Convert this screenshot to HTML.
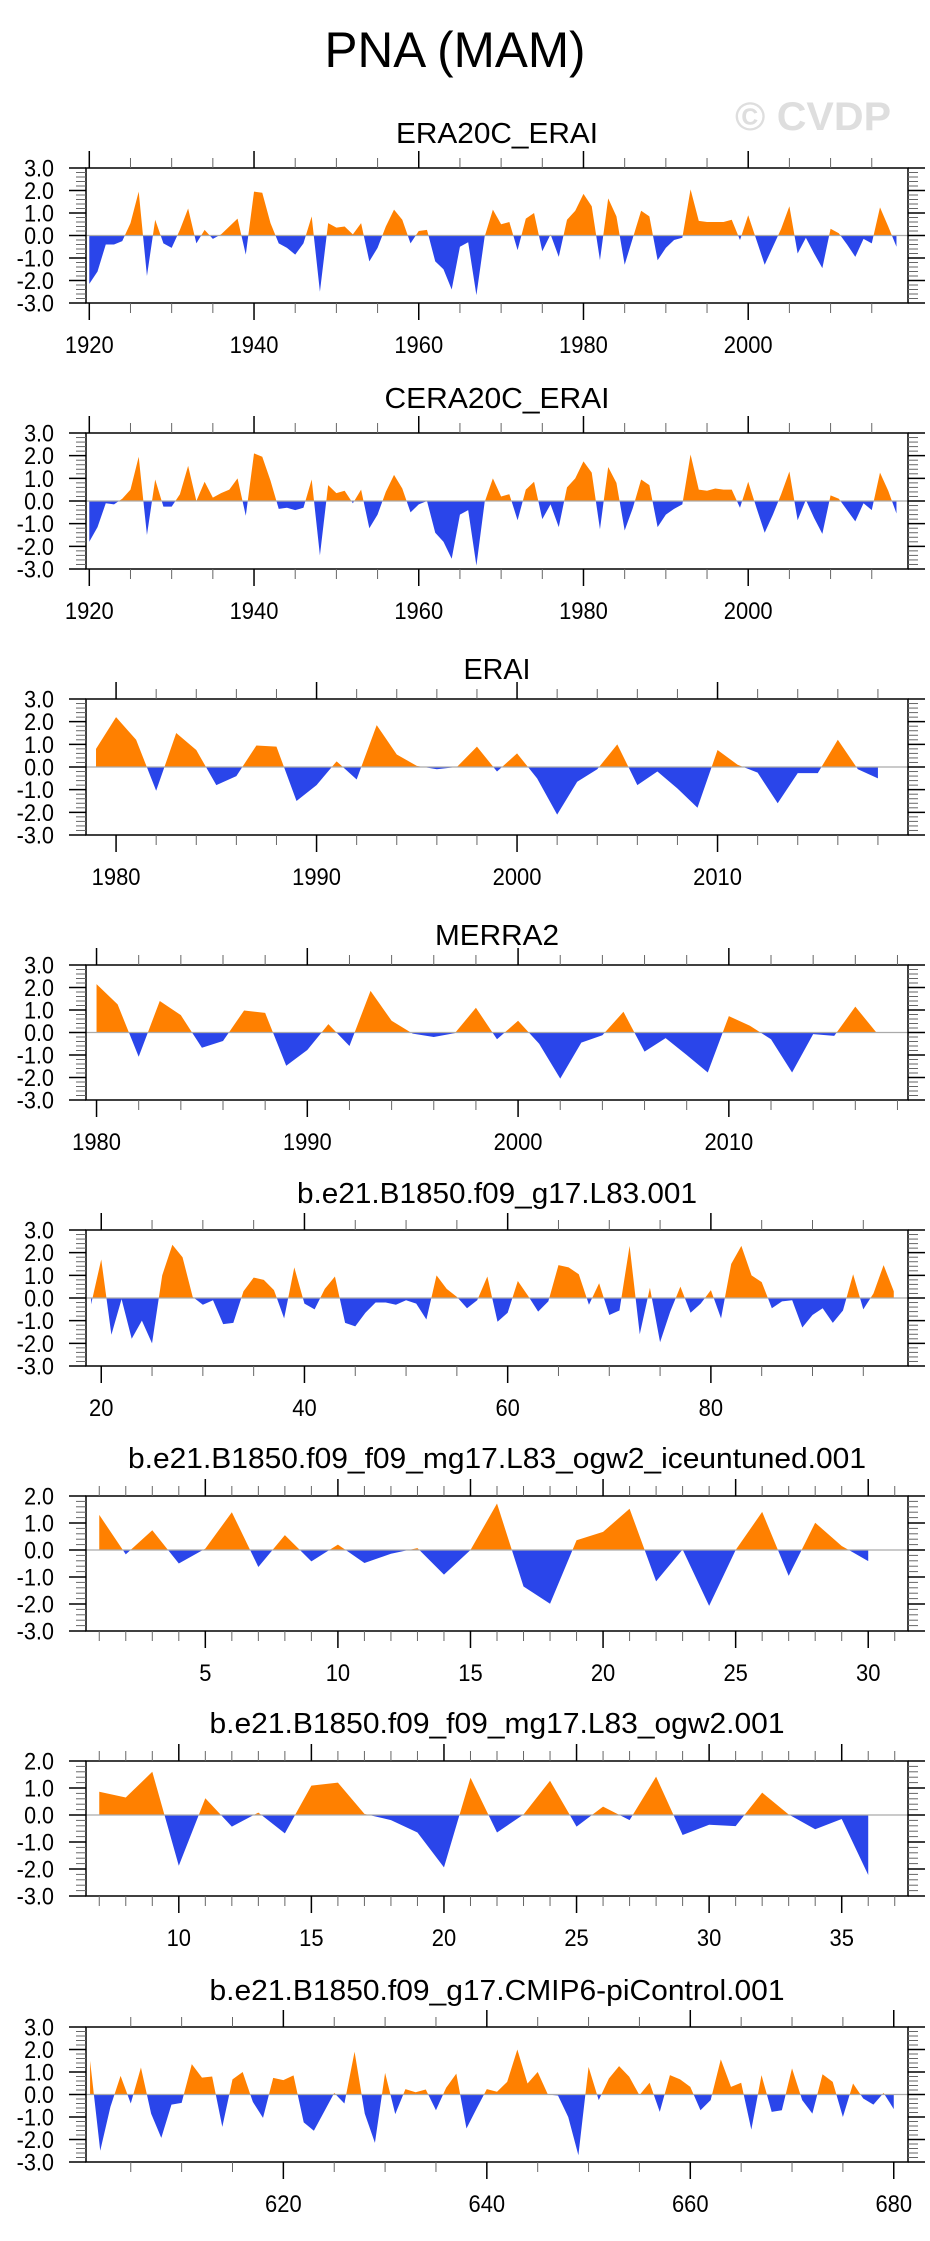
<!DOCTYPE html>
<html><head><meta charset="utf-8"><title>PNA (MAM)</title>
<style>html,body{margin:0;padding:0;background:#fff;}svg{display:block;}text{font-family:"Liberation Sans",Arial,sans-serif;}</style>
</head><body>
<svg id="chart" xmlns="http://www.w3.org/2000/svg" width="930" height="2241" viewBox="0 0 930 2241">
<rect x="0" y="0" width="930" height="2241" fill="#fff"/>
<text x="455" y="67" font-size="50" text-anchor="middle" textLength="261" lengthAdjust="spacingAndGlyphs">PNA (MAM)</text>
<text x="813" y="130" font-size="40" font-weight="bold" fill="#dedede" text-anchor="middle" textLength="156" lengthAdjust="spacingAndGlyphs">© CVDP</text>
</svg>
<script>
// ---- data arrays ----
const titles = ["ERA20C_ERAI","CERA20C_ERAI","ERAI","MERRA2","b.e21.B1850.f09_g17.L83.001","b.e21.B1850.f09_f09_mg17.L83_ogw2_iceuntuned.001","b.e21.B1850.f09_f09_mg17.L83_ogw2.001","b.e21.B1850.f09_g17.CMIP6-piControl.001"];
const startYears = [1920,1920,1979,1980,19,1,7,601];
const era20cValues = [-2.15,-1.6,-0.4,-0.4,-0.25,0.55,1.95,-1.8,0.7,-0.35,
-0.55,0.25,1.2,-0.35,0.25,-0.15,0.05,0.4,0.75,-0.85,
1.95,1.9,0.55,-0.35,-0.55,-0.85,-0.35,0.85,-2.5,0.55,
0.35,0.4,0.05,0.55,-1.15,-0.55,0.4,1.15,0.7,-0.35,
0.2,0.25,-1.15,-1.5,-2.4,-0.5,-0.3,-2.65,-0.05,1.15,
0.5,0.6,-0.65,0.75,1.0,-0.7,0.05,-0.95,0.7,1.1,
1.85,1.3,-1.1,1.65,0.85,-1.3,-0.1,1.1,0.85,-1.1,
-0.55,-0.2,-0.1,2.05,0.65,0.6,0.6,0.6,0.7,-0.2,
0.9,-0.2,-1.3,-0.5,0.3,1.3,-0.8,-0.1,-0.8,-1.45,
0.3,0.1,-0.4,-0.95,-0.15,-0.35,1.25,0.4,-0.5];
const cera20cValues = [-1.8,-1.15,-0.1,-0.15,0.1,0.5,1.95,-1.5,0.95,-0.25,
-0.25,0.3,1.55,0.0,0.85,0.15,0.35,0.5,1.0,-0.65,
2.1,1.95,0.9,-0.35,-0.3,-0.4,-0.3,0.95,-2.4,0.7,
0.35,0.45,-0.1,0.5,-1.2,-0.6,0.4,1.15,0.55,-0.5,
-0.15,0.0,-1.4,-1.8,-2.55,-0.6,-0.4,-2.85,-0.05,1.0,
0.2,0.3,-0.85,0.5,0.85,-0.8,-0.15,-1.15,0.6,1.0,
1.75,1.25,-1.25,1.5,0.8,-1.3,-0.3,0.95,0.7,-1.15,
-0.6,-0.35,-0.15,2.05,0.5,0.45,0.55,0.5,0.5,-0.3,
0.85,-0.3,-1.4,-0.6,0.3,1.3,-0.85,0.05,-0.75,-1.45,
0.25,0.1,-0.4,-0.9,-0.1,-0.4,1.25,0.45,-0.55];
const eraiValues = [0.8,2.2,1.2,-1.05,1.5,0.75,-0.8,-0.4,0.95,0.9,
-1.5,-0.8,0.25,-0.55,1.85,0.55,0.05,-0.1,0.0,0.9,
-0.2,0.6,-0.5,-2.1,-0.65,-0.1,1.0,-0.8,-0.2,-0.95,
-1.8,0.75,0.1,-0.25,-1.6,-0.27,-0.27,1.2,-0.1,-0.5];
const merra2Values = [2.15,1.25,-1.08,1.4,0.77,-0.68,-0.38,0.98,0.87,-1.48,
-0.78,0.37,-0.6,1.85,0.52,-0.05,-0.2,-0.03,1.1,-0.3,
0.52,-0.5,-2.05,-0.45,-0.12,0.92,-0.85,-0.25,-1.0,-1.78,
0.73,0.3,-0.3,-1.78,-0.07,-0.15,1.15,0.0];
const l83Values = [-0.28,1.7,-1.62,-0.05,-1.8,-1.0,-2.0,1.0,2.35,1.8,
0.05,-0.3,-0.1,-1.15,-1.1,0.3,0.9,0.8,0.35,-0.9,
1.35,-0.25,-0.5,0.4,0.95,-1.1,-1.25,-0.65,-0.2,-0.2,
-0.3,-0.1,-0.25,-0.95,1.0,0.4,0.05,-0.45,-0.1,0.95,
-1.05,-0.65,0.75,0.1,-0.6,-0.15,1.45,1.35,1.05,-0.3,
0.65,-0.75,-0.55,2.3,-1.6,0.45,-1.95,-0.6,0.5,-0.65,
-0.25,0.35,-0.9,1.5,2.3,1.0,0.7,-0.45,-0.15,-0.1,
-1.3,-0.75,-0.45,-1.1,-0.55,1.05,-0.5,0.2,1.45,0.3];
const iceuntunedValues = [1.3,-0.16,0.73,-0.5,0.05,1.4,-0.63,0.55,-0.42,0.2,
-0.48,-0.14,0.07,-0.91,0.0,1.72,-1.35,-1.99,0.36,0.67,
1.53,-1.16,0.02,-2.07,0.0,1.41,-0.96,1.01,0.15,-0.41];
const ogw2Values = [0.86,0.65,1.6,-1.88,0.62,-0.43,0.09,-0.68,1.09,1.2,
0.04,-0.19,-0.65,-1.94,1.38,-0.65,0.02,1.27,-0.43,0.31,
-0.19,1.42,-0.74,-0.36,-0.41,0.83,0.02,-0.53,-0.15,-2.22];
const piControlValues = [1.5,-2.5,-0.55,0.83,-0.4,1.2,-0.85,-1.93,-0.45,-0.37,
1.35,0.75,0.8,-1.44,0.67,1.0,-0.33,-1.04,0.74,0.64,
0.85,-1.24,-1.61,-0.77,0.07,-0.4,1.9,-0.85,-2.15,0.96,
-0.87,0.24,0.1,0.22,-0.7,0.3,0.93,-1.51,-0.62,0.24,
0.12,0.56,2.0,0.49,1.0,0.0,-0.05,-1.0,-2.7,1.23,
-0.25,0.71,1.26,0.79,-0.03,0.52,-0.77,0.86,0.67,0.34,
-0.7,-0.25,1.56,0.34,0.52,-1.56,0.86,-0.77,-0.7,1.16,
-0.25,-0.85,0.9,0.56,-1.0,0.49,-0.18,-0.45,0.07,-0.65];
const seriesValues = [era20cValues,cera20cValues,eraiValues,merra2Values,l83Values,iceuntunedValues,ogw2Values,piControlValues];
const yTickLabels3 = ["3.0","2.0","1.0","0.0","-1.0","-2.0","-3.0"];
const yTickLabels2 = ["2.0","1.0","0.0","-1.0","-2.0","-3.0"];
const xTickLabels = [["1920","1940","1960","1980","2000"],["1920","1940","1960","1980","2000"],["1980","1990","2000","2010"],["1980","1990","2000","2010"],["20","40","60","80"],["5","10","15","20","25","30"],["10","15","20","25","30","35"],["620","640","660","680"]];

// ---- layout (not data) ----
const layout = [
 {top:168,bot:303,xmin:1919.6,xmax:2019.4,ymax:3,maj:20,min:5,tb:143,tw:202},
 {top:433,bot:569,xmin:1919.6,xmax:2019.4,ymax:3,maj:20,min:5,tb:408,tw:225},
 {top:699,bot:835,xmin:1978.5,xmax:2019.5,ymax:3,maj:10,min:2,tb:679,tw:67},
 {top:965,bot:1100,xmin:1979.5,xmax:2018.5,ymax:3,maj:10,min:2,tb:945,tw:124},
 {top:1230,bot:1366,xmin:18.5,xmax:99.4,ymax:3,maj:20,min:5,tb:1203,tw:400},
 {top:1496,bot:1631,xmin:0.5,xmax:31.5,ymax:2,maj:5,min:1,tb:1468,tw:738},
 {top:1761,bot:1896,xmin:6.5,xmax:37.5,ymax:2,maj:5,min:1,tb:1733,tw:575},
 {top:2027,bot:2162,xmin:600.6,xmax:681.4,ymax:3,maj:20,min:5,tb:2000,tw:575}
];
const L=86,R=908,NS="http://www.w3.org/2000/svg";
const svg=document.getElementById('chart');
function mk(tag,attrs,parent){const e=document.createElementNS(NS,tag);for(const k in attrs)e.setAttribute(k,attrs[k]);(parent||svg).appendChild(e);return e;}
function labLen(s){let w=0;for(const c of s){w+=(c>='0'&&c<='9')?12.2:(c==='.'?5.5:7.5);}return w;}

layout.forEach((p,i)=>{
  const g=mk('g',{});
  
  
  const ymin=-3, ymax=p.ymax;
  const xs=v=>L+(v-p.xmin)/(p.xmax-p.xmin)*(R-L);
  const ys=v=>p.bot-(v-ymin)/(ymax-ymin)*(p.bot-p.top);
  const vals=seriesValues[i], x0=startYears[i];
  const t=mk('text',{x:497,y:p.tb,'font-size':29,'text-anchor':'middle',textLength:p.tw,lengthAdjust:'spacingAndGlyphs'},g);
  t.textContent=titles[i];
  
  
  const z=ys(0);
  const defs=mk('defs',{},g);
  const cpU=mk('clipPath',{id:'up'+i},defs); mk('rect',{x:L,y:p.top,width:R-L,height:z-p.top},cpU);
  const cpD=mk('clipPath',{id:'dn'+i},defs); mk('rect',{x:L,y:z,width:R-L,height:p.bot-z},cpD);
  let d='M'+xs(x0).toFixed(2)+','+z.toFixed(2);
  vals.forEach((v,k)=>{d+=' L'+xs(x0+k).toFixed(2)+','+ys(v).toFixed(2);});
  d+=' L'+xs(x0+vals.length-1).toFixed(2)+','+z.toFixed(2)+' Z';
  const pos=mk('path',{d:d,fill:'#ff8000','clip-path':'url(#up'+i+')'},g);
  
  
  const neg=mk('path',{d:d,fill:'#2a45ea','clip-path':'url(#dn'+i+')'},g);
  
  
  const zl=mk('line',{x1:L,x2:R,y1:z,y2:z,stroke:'#aaa','stroke-width':1.2},g);
  
  
  const fr=mk('rect',{x:L,y:p.top,width:R-L,height:p.bot-p.top,fill:'none',stroke:'#000','stroke-width':1.5},g);
  
  
  const ylabels=p.ymax===3?yTickLabels3:yTickLabels2;
  for(let v=ymin;v<=ymax+1e-6;v+=0.2){
    const yy=ys(v), major=Math.abs(v-Math.round(v))<1e-6;
    const len=major?17:10, col=major?'#000':'#666', w=major?1.5:1;
    mk('line',{x1:L-len,x2:L,y1:yy,y2:yy,stroke:col,'stroke-width':w},g);
    mk('line',{x1:R,x2:R+len,y1:yy,y2:yy,stroke:col,'stroke-width':w},g);
  }
  ylabels.forEach(s=>{
    const yl=mk('text',{x:54,y:ys(parseFloat(s))+8.5,'font-size':24,'text-anchor':'end',textLength:labLen(s),lengthAdjust:'spacingAndGlyphs'},g);
    yl.textContent=s;
    
    
  });
  const first=Math.ceil(p.xmin/p.min)*p.min;
  for(let v=first;v<=p.xmax;v+=p.min){
    const xx=xs(v), major=Math.abs(v/p.maj-Math.round(v/p.maj))<1e-6;
    const len=major?17:10, col=major?'#000':'#666', w=major?1.5:1;
    mk('line',{x1:xx,x2:xx,y1:p.top-len,y2:p.top,stroke:col,'stroke-width':w},g);
    mk('line',{x1:xx,x2:xx,y1:p.bot,y2:p.bot+len,stroke:col,'stroke-width':w},g);
  }
  xTickLabels[i].forEach(s=>{
    const xl=mk('text',{x:xs(parseFloat(s)),y:p.bot+50,'font-size':24,'text-anchor':'middle',textLength:labLen(s),lengthAdjust:'spacingAndGlyphs'},g);
    xl.textContent=s;
    
    
  });
});
</script>
</body></html>
